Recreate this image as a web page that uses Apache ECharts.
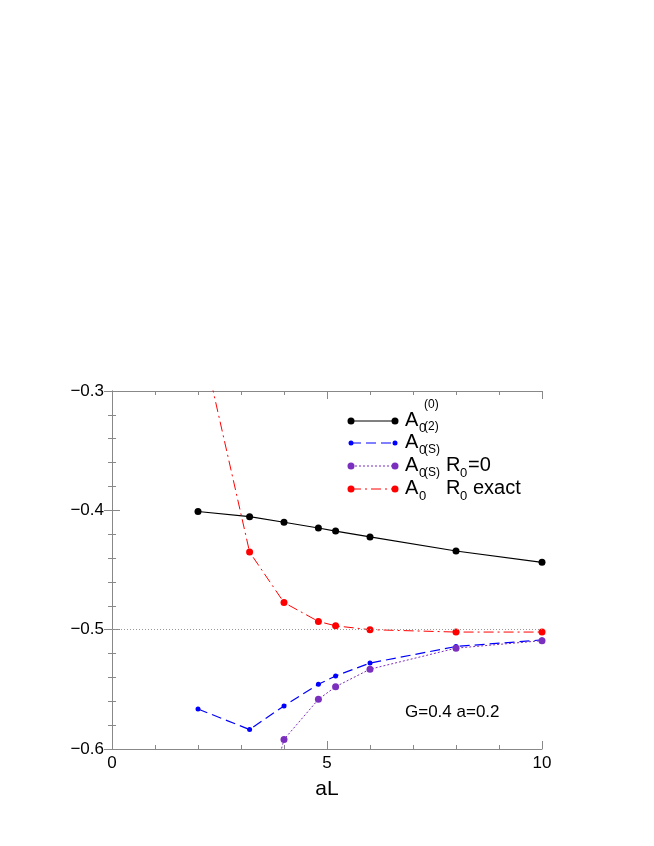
<!DOCTYPE html>
<html><head><meta charset="utf-8">
<script src="https://cdn.jsdelivr.net/npm/echarts@6/dist/echarts.min.js"></script>
<style>html,body{margin:0;padding:0;background:#fff}#c{width:654px;height:846px}</style>
</head><body><div id="c"></div>
<script>
const xA0 = [2, 3.2, 4, 4.8, 5.2, 6, 8, 10];
const yA0 = [-0.401, -0.4053, -0.410, -0.4148, -0.4174, -0.4223, -0.4341, -0.4436];
const xA2 = [2, 3.2, 4, 4.8, 5.2, 6, 8, 10];
const yA2 = [-0.5665, -0.5837, -0.5639, -0.5458, -0.5388, -0.528, -0.5141, -0.5086];
const xS0 = [3.2, 4, 4.8, 5.2, 6, 8, 10];
const yS0 = [-0.70, -0.592, -0.5584, -0.5478, -0.5331, -0.5155, -0.5092];
const xSE = [2, 3.2, 4, 4.8, 5.2, 6, 8, 10];
const ySE = [-0.244, -0.435, -0.4773, -0.4931, -0.4968, -0.500, -0.502, -0.502];
const xTicks = [0, 5, 10];
const yTicks = [-0.6, -0.5, -0.4, -0.3];
const refLine = -0.5;

const zip = (xs, ys) => xs.map((x, i) => [x, ys[i]]);
const F = 'Liberation Sans, Arial, sans-serif';
const chart = echarts.init(document.getElementById('c'));
const axCol = '#888';
const baseX = {type:'value', min:0, max:10, interval:5,
  axisLine:{show:true, lineStyle:{color:axCol}}, axisTick:{inside:true, length:8, lineStyle:{color:axCol}},
  minorTick:{show:true, splitNumber:5, length:4, lineStyle:{color:axCol}}, splitLine:{show:false}};
const baseY = {type:'value', min:-0.6, max:-0.3, interval:0.1,
  axisLine:{show:true, lineStyle:{color:axCol}}, axisTick:{inside:true, length:8, lineStyle:{color:axCol}},
  minorTick:{show:true, splitNumber:5, length:4, lineStyle:{color:axCol}}, splitLine:{show:false}};
function ser(name, d, color, type, size, width) {
  return {name, type:'line', data:d, symbol:'circle', symbolSize:size, clip:true,
    itemStyle:{color}, lineStyle:{color, type, width}, animation:false};
}
const series = [
  ser('A0', zip(xA0, yA0), '#000', 'solid', 7, 1.2),
  ser('A2', zip(xA2, yA2), '#0000ff', [10,5], 5, 1.2),
  ser('S0', zip(xS0, yS0), '#7b2fbe', [2,2], 7, 1),
  ser('SE', zip(xSE, ySE), '#ff0000', [10,4,2,4], 7, 1),
];
series[0].markLine = {silent:true, symbol:'none', label:{show:false}, animation:false,
  lineStyle:{color:'#999', type:[1,2], width:1}, data:[{yAxis:refLine}]};

// legend
const rows = [
  {y:421, c:'#000', t:'solid', s:7, sup:'(0)', extra:''},
  {y:443, c:'#0000ff', t:[10,5], s:5, sup:'(2)', extra:''},
  {y:466, c:'#7b2fbe', t:[2,2], s:7, sup:'(S)', extra:'R0=0'},
  {y:489, c:'#ff0000', t:[10,4,2,4], s:7, sup:'(S)', extra:'R0 exact'},
];
const g = [];
rows.forEach(r => {
  g.push({type:'line', shape:{x1:351, y1:r.y, x2:395, y2:r.y}, style:{stroke:r.c, lineWidth:1, lineDash:r.t==='solid'?null:r.t}});
  g.push({type:'circle', shape:{cx:351, cy:r.y, r:r.s/2}, style:{fill:r.c}});
  g.push({type:'circle', shape:{cx:395, cy:r.y, r:r.s/2}, style:{fill:r.c}});
  g.push({type:'text', left:405, top:r.y-11, style:{text:'A', font:'20px '+F, fill:'#000'}});
  g.push({type:'text', left:419, top:r.y+1, style:{text:'0', font:'13px '+F, fill:'#000'}});
  g.push({type:'text', left:424, top:r.y-22, style:{text:r.sup, font:'12px '+F, fill:'#000'}});
  if (r.extra === 'R0=0') {
    g.push({type:'text', left:446, top:r.y-11, style:{text:'R', font:'20px '+F, fill:'#000'}});
    g.push({type:'text', left:460, top:r.y+1, style:{text:'0', font:'13px '+F, fill:'#000'}});
    g.push({type:'text', left:468, top:r.y-11, style:{text:'=0', font:'20px '+F, fill:'#000'}});
  } else if (r.extra) {
    g.push({type:'text', left:446, top:r.y-11, style:{text:'R', font:'20px '+F, fill:'#000'}});
    g.push({type:'text', left:460, top:r.y+1, style:{text:'0', font:'13px '+F, fill:'#000'}});
    g.push({type:'text', left:473, top:r.y-11, style:{text:'exact', font:'20px '+F, fill:'#000'}});
  }
});
g.push({type:'text', left:405, top:704, style:{text:'G=0.4 a=0.2', font:'17px '+F, fill:'#000'}});

chart.setOption({
  animation:false,
  grid:{left:112, right:112, top:391, bottom:97},
  xAxis:[
    Object.assign({}, baseX, {position:'bottom', name:'aL', nameLocation:'middle', nameGap:30,
      nameTextStyle:{fontSize:21, fontFamily:F, color:'#000'},
      axisLabel:{fontSize:17, fontFamily:F, color:'#000', margin:6, formatter:v=>xTicks.includes(v)?String(v):''}}),
    Object.assign({}, baseX, {position:'top', axisLabel:{show:false}})
  ],
  yAxis:[
    Object.assign({}, baseY, {position:'left',
      axisLabel:{fontSize:17, fontFamily:F, color:'#000', margin:8,
        formatter:v=>{const t=yTicks.find(k=>Math.abs(k-v)<1e-9); return t===undefined?'':'\u2212'+Math.abs(t).toFixed(1);}}}),
    Object.assign({}, baseY, {position:'right', axisLabel:{show:false}})
  ],
  series,
  graphic:g
});
</script></body></html>
